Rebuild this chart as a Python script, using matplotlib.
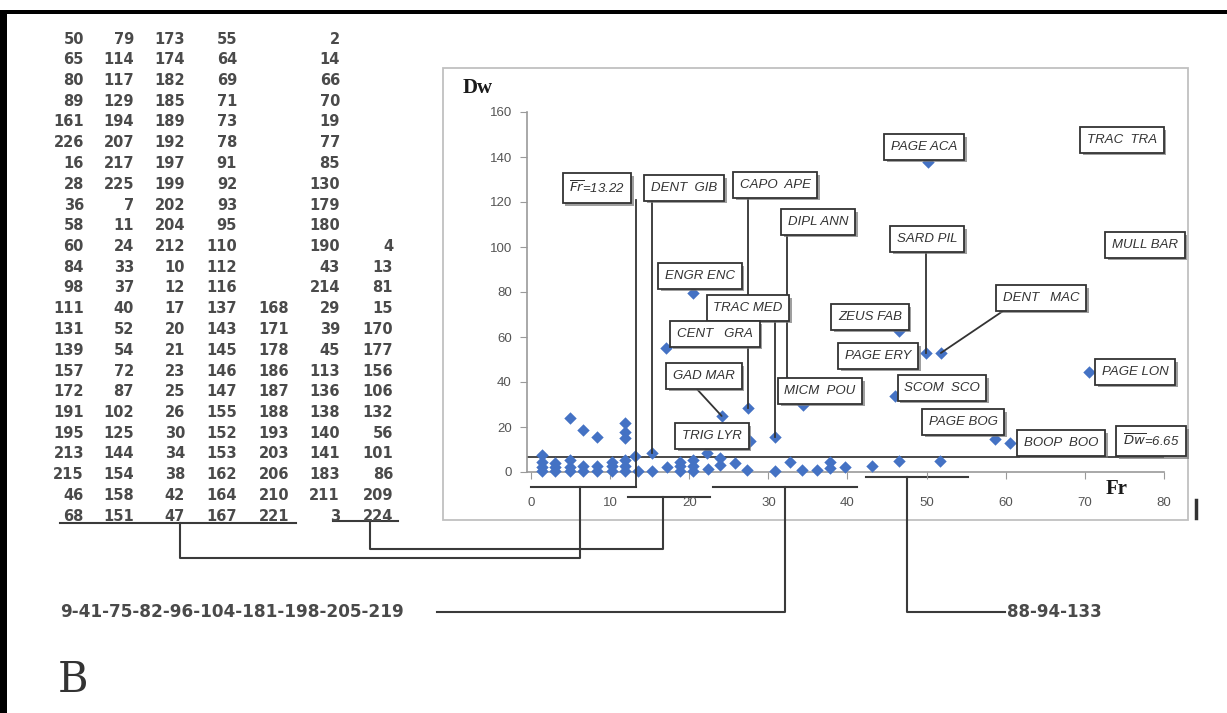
import matplotlib.pyplot as plt
import matplotlib.patheffects as pe

# sample numbers listed left of the chart ('' = empty cell)
table_rows = [
    ['50', '79', '173', '55', '', '2', ''],
    ['65', '114', '174', '64', '', '14', ''],
    ['80', '117', '182', '69', '', '66', ''],
    ['89', '129', '185', '71', '', '70', ''],
    ['161', '194', '189', '73', '', '19', ''],
    ['226', '207', '192', '78', '', '77', ''],
    ['16', '217', '197', '91', '', '85', ''],
    ['28', '225', '199', '92', '', '130', ''],
    ['36', '7', '202', '93', '', '179', ''],
    ['58', '11', '204', '95', '', '180', ''],
    ['60', '24', '212', '110', '', '190', '4'],
    ['84', '33', '10', '112', '', '43', '13'],
    ['98', '37', '12', '116', '', '214', '81'],
    ['111', '40', '17', '137', '168', '29', '15'],
    ['131', '52', '20', '143', '171', '39', '170'],
    ['139', '54', '21', '145', '178', '45', '177'],
    ['157', '72', '23', '146', '186', '113', '156'],
    ['172', '87', '25', '147', '187', '136', '106'],
    ['191', '102', '26', '155', '188', '138', '132'],
    ['195', '125', '30', '152', '193', '140', '56'],
    ['213', '144', '34', '153', '203', '141', '101'],
    ['215', '154', '38', '162', '206', '183', '86'],
    ['46', '158', '42', '164', '210', '211', '209'],
    ['68', '151', '47', '167', '221', '3', '224'],
]
group_a = '9-41-75-82-96-104-181-198-205-219'
group_b = '88-94-133'

# unlabelled species (Fr, Dw)
fr = [1.4, 1.4, 1.4, 1.4, 3.0, 3.0, 3.0, 4.9, 4.9, 4.9, 4.9, 6.6, 6.6, 6.6,
      8.3, 8.3, 8.3, 10.2, 10.2, 10.2, 11.9, 11.9, 11.9, 11.9, 11.9, 11.9,
      13.2, 13.5, 15.3, 17.2, 18.8, 18.8, 18.8, 20.5, 20.5, 20.5, 22.2, 22.4,
      23.9, 23.9, 25.8, 27.3, 30.8, 32.7, 34.3, 36.1, 37.8, 37.8, 39.7,
      43.1, 46.5, 51.7]
dw = [0.4, 2.2, 4.4, 7.6, 0.4, 2.2, 4.0, 0.4, 2.2, 5.3, 24.0, 0.4, 2.7, 18.7,
      0.4, 2.7, 15.6, 0.4, 2.7, 4.4, 0.4, 2.7, 5.3, 15.1, 17.8, 21.8,
      7.0, 0.4, 0.4, 2.2, 0.4, 2.7, 4.4, 0.4, 2.7, 5.3, 8.4, 1.3,
      3.1, 6.2, 4.0, 0.9, 0.4, 4.4, 0.9, 0.9, 1.8, 4.4, 2.2,
      2.7, 4.9, 4.9]

# labelled species
lab_names = ['DENT  GIB', 'CAPO  APE', 'DIPL ANN', 'SARD PIL', 'DENT   MAC',
             'GAD MAR', 'TRAC MED', 'MICM  POU', 'ENGR ENC', 'CENT   GRA',
             'ZEUS FAB', 'SCOM  SCO', 'PAGE ACA', 'PAGE LON', 'PAGE BOG',
             'BOOP  BOO', 'TRIG LYR']
lab_fr = [15.3, 27.4, 32.4, 49.9, 51.8, 24.1, 30.8, 34.4, 20.5, 17.1,
          46.5, 46.0, 50.2, 70.5, 58.7, 60.6, 27.7]
lab_dw = [8.4, 28.4, 40.0, 52.9, 52.9, 24.9, 15.6, 29.8, 79.6, 55.1,
          62.7, 33.8, 137.8, 44.4, 14.7, 12.9, 13.8]
# labels whose points fall outside the plotted range
extra_names = ['TRAC  TRA', 'MULL BAR', 'PAGE ERY']

fr_mean = 13.22
dw_mean = 6.65

W, H = 1227, 713
fig = plt.figure(figsize=(W / 100, H / 100), dpi=100)

bg = fig.add_axes([0, 0, 1, 1])
bg.set_xlim(0, W)
bg.set_ylim(H, 0)
bg.axis('off')

ax = fig.add_axes([527 / W, (H - 472) / H, (1164 - 527) / W, (472 - 112) / H])
ax.set_facecolor('none')
ax.set_xlim(-0.5, 80)
ax.set_ylim(0, 160)
ax.set_xticks(range(0, 81, 10))
ax.set_yticks(range(0, 161, 20))
for s in ['top', 'right']:
    ax.spines[s].set_visible(False)
for s in ['left', 'bottom']:
    ax.spines[s].set_color('#9a9a9a')
    ax.spines[s].set_linewidth(1.2)
ax.tick_params(axis='x', length=5, color='#9a9a9a', pad=13, labelsize=9.5, labelcolor='#555555')
ax.tick_params(axis='y', length=5, color='#9a9a9a', pad=6, labelsize=9.5, labelcolor='#555555')
for lbl in ax.get_xticklabels() + ax.get_yticklabels():
    lbl.set_family('Liberation Sans')

blue = '#4472C4'
ax.scatter(fr, dw, marker='D', s=40, color=blue, clip_on=False, zorder=3, linewidths=0)
ax.scatter(lab_fr, lab_dw, marker='D', s=40, color=blue, clip_on=False, zorder=3, linewidths=0)

# mean Dw line
ax.axhline(dw_mean, color='#3a3a3a', lw=1.3, zorder=2)

box = dict(boxstyle='square,pad=0.5', fc='white', ec='#333333', lw=1.3)
shadow = [pe.withSimplePatchShadow(offset=(2, -2), shadow_rgbFace='#777777', alpha=0.7)]
tstyle = dict(fontsize=9.5, style='italic', color='#333333', family='Liberation Sans',
              ha='center', va='center', zorder=5)
line_kw = dict(color='#333333', lw=1.3)

# label box centres (pixels); connector: ('v', box bottom px) vertical line, ('rel', relpos) slanted
label_pos = {
    'DENT  GIB': ((684, 188), ('v', 200)),
    'CAPO  APE': ((775, 185), ('v', 198)),
    'DIPL ANN': ((818, 222), ('v', 235)),
    'SARD PIL': ((927, 239), ('v', 252)),
    'DENT   MAC': ((1041, 298), ('rel', (0.14, 0))),
    'GAD MAR': ((704, 376), ('rel', (0.28, 0))),
    'TRAC MED': ((748, 308), ('v', 322)),
    'MICM  POU': ((820, 391), None),
    'ENGR ENC': ((700, 276), None),
    'CENT   GRA': ((715, 334), None),
    'ZEUS FAB': ((870, 317), None),
    'SCOM  SCO': ((942, 388), None),
    'PAGE ACA': ((924, 147), None),
    'PAGE LON': ((1135, 372), None),
    'PAGE BOG': ((963, 422), None),
    'BOOP  BOO': ((1061, 443), None),
    'TRIG LYR': ((712, 436), None),
    'TRAC  TRA': ((1122, 140), None),
    'MULL BAR': ((1145, 245), None),
    'PAGE ERY': ((878, 356), None),
}

to_data = ax.transData.inverted()


def px_to_dw(py):
    return to_data.transform((0, H - py))[1]


for name, x, y in zip(lab_names, lab_fr, lab_dw):
    (cx, cy), conn = label_pos[name]
    kw = {}
    if conn is not None and conn[0] == 'rel':
        kw['arrowprops'] = dict(arrowstyle='-', relpos=conn[1], shrinkA=0, shrinkB=0, **line_kw)
    elif conn is not None:
        ax.plot([x, x], [y, px_to_dw(conn[1])], zorder=4, clip_on=False, **line_kw)
    t = ax.annotate(name, xy=(x, y), xytext=(cx, H - cy), textcoords='figure pixels',
                    bbox=box, annotation_clip=False, **kw, **tstyle)
    t.get_bbox_patch().set_path_effects(shadow)

for name in extra_names:
    (cx, cy), _ = label_pos[name]
    t = ax.annotate(name, xy=(cx, H - cy), xycoords='figure pixels', bbox=box,
                    annotation_clip=False, **tstyle)
    t.get_bbox_patch().set_path_effects(shadow)

# mean Fr line and its label
ax.plot([fr_mean, fr_mean], [px_to_dw(487), px_to_dw(200)], zorder=4, clip_on=False, **line_kw)
t = ax.annotate(r'$\overline{Fr}$=%.2f' % fr_mean, xy=(597, H - 188), xycoords='figure pixels',
                bbox=box, annotation_clip=False, **tstyle)
t.get_bbox_patch().set_path_effects(shadow)
t = ax.annotate(r'$\overline{Dw}$=%.2f' % dw_mean, xy=(1151, H - 441), xycoords='figure pixels',
                bbox=box, annotation_clip=False, **tstyle)
t.get_bbox_patch().set_path_effects(shadow)

# axis titles
bg.text(478, 88, 'Dw', fontsize=15, fontweight='bold', family='Liberation Serif',
        color='#1a1a1a', ha='center', va='center')
bg.text(1117, 489, 'Fr', fontsize=15, fontweight='bold', family='Liberation Serif',
        color='#1a1a1a', ha='center', va='center')

# chart area border
bg.add_patch(plt.Rectangle((443, 68), 745, 452, fill=False, ec='#c0c0c0', lw=1.3))

# table of samples
col_right = [84, 134, 185, 237, 289, 340, 393]
for i, row in enumerate(table_rows):
    for j, v in enumerate(row):
        if v:
            bg.text(col_right[j], 39 + i * 20.75, v, ha='right', va='center',
                    fontsize=10.5, fontweight='bold', color='#4a4a4a', family='DejaVu Sans')

# grouping brackets
lc = dict(color='#3a3a3a', lw=1.5)
bg.plot([60, 296], [523, 523], **lc)
bg.plot([333, 398], [521, 521], **lc)
bg.plot([180, 180, 580, 580], [523, 558, 558, 487], **lc)
bg.plot([531, 636], [487, 487], **lc)
bg.plot([370, 370, 663, 663], [521, 549, 549, 497], **lc)
bg.plot([628, 710], [497, 497], **lc)
bg.plot([713, 857], [487, 487], **lc)
bg.plot([437, 785, 785], [612, 612, 487], **lc)
bg.plot([866, 968], [477, 477], **lc)
bg.plot([1005, 907, 907], [612, 612, 477], **lc)
bg.plot([1196, 1196], [500, 518], color='#333333', lw=2.5)

bg.text(60, 612, group_a, ha='left', va='center', fontsize=12.2, fontweight='bold',
        color='#4a4a4a', family='DejaVu Sans')
bg.text(1007, 612, group_b, ha='left', va='center', fontsize=12, fontweight='bold',
        color='#4a4a4a', family='DejaVu Sans')

bg.text(58, 680, 'B', ha='left', va='center', fontsize=30, family='DejaVu Serif',
        color='#333333')

# outer frame
bg.add_patch(plt.Rectangle((0, 10), W, 4, color='black', lw=0))
bg.add_patch(plt.Rectangle((0, 10), 7, H, color='black', lw=0))

fig.savefig('out.png', dpi=100)
